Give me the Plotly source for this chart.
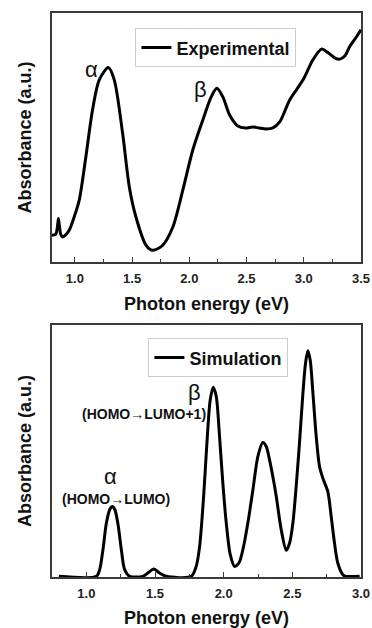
import plotly.graph_objects as go

# ---- Data ----
exp_energy = [0.80, 0.832, 0.849, 0.856, 0.865, 0.876, 0.891, 0.915, 0.95, 0.994, 1.038,
              1.096, 1.154, 1.213, 1.292, 1.344, 1.417, 1.476, 1.534, 1.622, 1.68, 1.767,
              1.855, 1.943, 2.03, 2.118, 2.191, 2.24, 2.293, 2.352, 2.424, 2.49, 2.556,
              2.61, 2.673, 2.73, 2.79, 2.877, 2.994, 3.08, 3.155, 3.213, 3.27, 3.315,
              3.36, 3.40, 3.455, 3.5]
exp_abs = [0.80, 0.83, 1.10, 1.30, 1.07, 0.83, 0.75, 0.80, 0.95, 1.35, 1.85,
           3.15, 4.55, 5.45, 5.82, 5.45, 3.85, 2.24, 1.34, 0.50, 0.35, 0.50,
           1.04, 2.15, 3.35, 4.25, 4.94, 5.20, 4.94, 4.40, 4.07, 4.01, 4.04,
           4.01, 3.98, 4.01, 4.19, 4.85, 5.45, 6.05, 6.37, 6.26, 6.11, 6.07,
           6.17, 6.44, 6.71, 6.95]

sim_energy = [0.80, 1.073, 1.097, 1.121, 1.146, 1.17, 1.189, 1.208, 1.233, 1.255, 1.279,
              1.315, 1.412, 1.448, 1.492, 1.533, 1.582, 1.764, 1.80, 1.825, 1.854, 1.878,
              1.902, 1.924, 1.946, 1.97, 1.994, 2.019, 2.048, 2.079, 2.111, 2.14, 2.176,
              2.213, 2.249, 2.285, 2.31, 2.334, 2.358, 2.383, 2.419, 2.456, 2.48, 2.504,
              2.528, 2.552, 2.577, 2.596, 2.613, 2.63, 2.65, 2.674, 2.698, 2.722, 2.758,
              2.783, 2.807, 2.831, 2.868, 2.892, 2.99]
sim_abs = [0, 0, 0.2, 0.8, 1.6, 2.0, 2.1, 2.0, 1.5, 0.8, 0.2,
           0, 0, 0.1, 0.22, 0.1, 0, 0, 0.3, 0.9, 2.4, 4.0,
           5.3, 5.68, 5.4, 4.2, 2.8, 1.6, 0.65, 0.3, 0.4, 0.8, 1.6,
           2.6, 3.6, 4.02, 3.9, 3.5, 3.0, 2.4, 1.4, 0.78, 1.0, 1.6,
           2.7, 4.0, 5.5, 6.4, 6.78, 6.5, 5.5, 4.2, 3.3, 2.95, 2.55,
           1.8, 1.0, 0.4, 0.05, 0, 0]

top_xticks = [1.0, 1.5, 2.0, 2.5, 3.0, 3.5]
bot_xticks = [1.0, 1.5, 2.0, 2.5, 3.0]

BOLD = "Liberation Sans, Arial, sans-serif"
GREEK = "Liberation Sans, Arial, sans-serif"
AX = "#3a3a3a"

fig = go.Figure()
fig.add_trace(go.Scatter(x=exp_energy, y=exp_abs, mode="lines", name="Experimental",
                         line=dict(color="black", width=3, shape="spline", smoothing=0.8),
                         xaxis="x", yaxis="y", legend="legend"))
fig.add_trace(go.Scatter(x=sim_energy, y=sim_abs, mode="lines", name="Simulation",
                         line=dict(color="black", width=3, shape="spline", smoothing=0.8),
                         xaxis="x2", yaxis="y2", legend="legend2"))

def xax(rng, ticks, anchor):
    return dict(range=rng, tickvals=ticks, ticktext=[f"{t:.1f}" for t in ticks],
                ticks="inside", ticklen=5, tickwidth=1.3, tickcolor=AX,
                minor=dict(dtick=0.25, ticks="inside", ticklen=3, tickwidth=1.2, tickcolor=AX, showgrid=False),
                showline=True, linecolor=AX, linewidth=1.5, mirror=True,
                showgrid=False, zeroline=False, anchor=anchor, automargin=False,
                ticklabelstandoff=4,
                tickfont=dict(family=BOLD, size=13, color="#222", weight="bold"),
                title=dict(text="Photon energy (eV)", standoff=12,
                           font=dict(family=BOLD, size=18, color="#111", weight="bold")))

def yax(rng, dom, anchor):
    return dict(range=rng, domain=dom, showticklabels=False, ticks="",
                showline=True, linecolor=AX, linewidth=1.5, mirror=True,
                showgrid=False, zeroline=False, anchor=anchor, automargin=False,
                title=dict(text="Absorbance (a.u.)", standoff=14,
                           font=dict(family=BOLD, size=18, color="#111", weight="bold")))

leg_common = dict(bgcolor="white", bordercolor="#cccccc", borderwidth=1, itemwidth=30,
                  font=dict(family=BOLD, size=18, color="#111", weight="bold"),
                  xanchor="left", yanchor="top", tracegroupgap=0)

fig.update_layout(
    width=372, height=628,
    margin=dict(l=52, r=11, t=13, b=51),
    paper_bgcolor="white", plot_bgcolor="white",
    showlegend=True,
    xaxis=xax([0.8, 3.5], top_xticks, "y"),
    yaxis=yax([0, 7.45], [0.5585, 1.0], "x"),
    xaxis2=xax([0.75, 3.0], bot_xticks, "y2"),
    yaxis2=yax([-0.02, 7.55], [0.0, 0.4468], "x2"),
    legend=dict(x=0.270, y=0.9729, **leg_common),
    legend2=dict(x=0.312, y=0.4232, **leg_common),
)

ann = [
    dict(x=1.143, y=5.75, xref="x", yref="y", text="α", font=dict(family=GREEK, size=22, color="#111")),
    dict(x=2.099, y=5.15, xref="x", yref="y", text="β", font=dict(family=GREEK, size=22, color="#111")),
    dict(x=1.788, y=5.51, xref="x2", yref="y2", text="β", font=dict(family=GREEK, size=22, color="#111")),
    dict(x=1.417, y=4.88, xref="x2", yref="y2", text="(HOMO→LUMO+1)",
         font=dict(family=BOLD, size=14, color="#111", weight="bold")),
    dict(x=1.173, y=3.0, xref="x2", yref="y2", text="α", font=dict(family=GREEK, size=22, color="#111")),
    dict(x=1.214, y=2.31, xref="x2", yref="y2", text="(HOMO→LUMO)",
         font=dict(family=BOLD, size=14, color="#111", weight="bold")),
]
for a in ann:
    a.update(showarrow=False, xanchor="center", yanchor="middle")
fig.update_layout(annotations=ann)

fig.write_html("out.html")
